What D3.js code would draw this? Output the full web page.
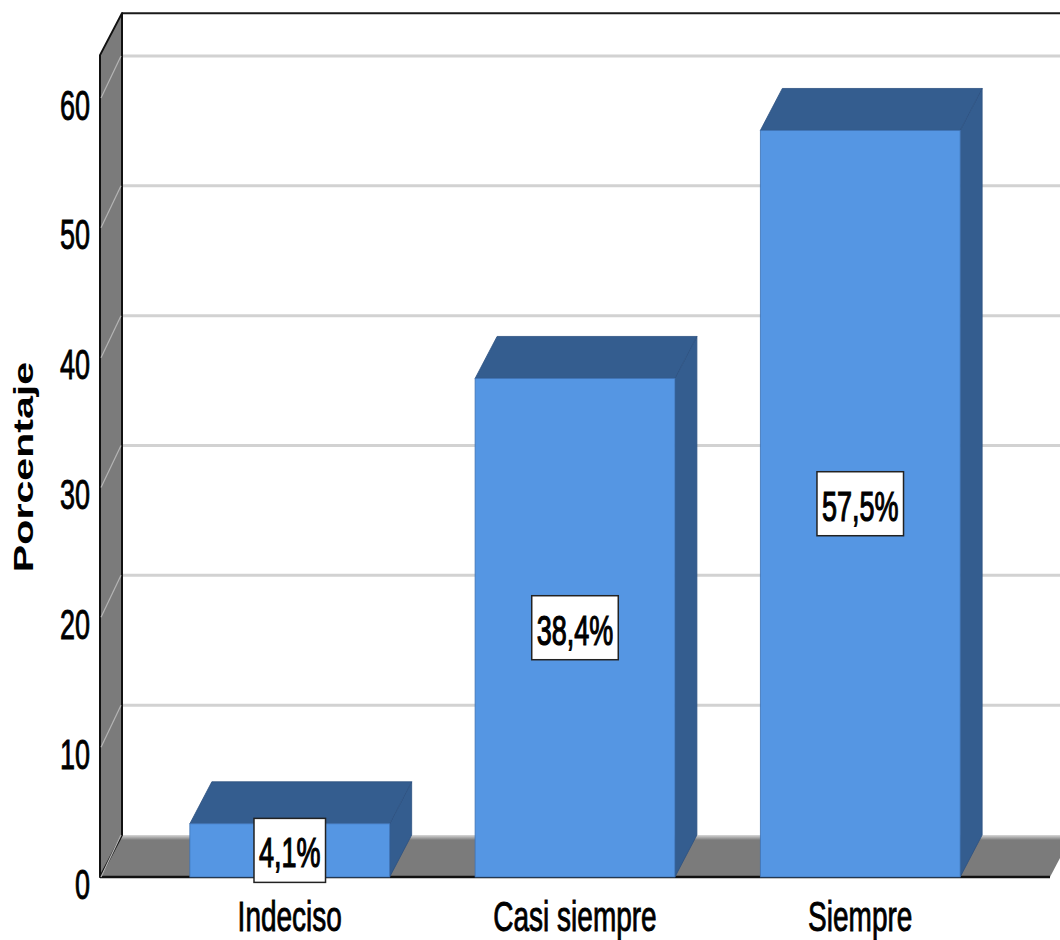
<!DOCTYPE html>
<html><head><meta charset="utf-8">
<script src="https://cdn.jsdelivr.net/npm/d3@7"></script>
<style>
html,body{margin:0;padding:0;background:#fff;}
svg{display:block;font-family:"Liberation Sans",Arial,sans-serif;}
</style></head>
<body>
<svg id="chart" width="1060" height="940"></svg>
<script>
const categories = ["Indeciso", "Casi siempre", "Siempre"];
const percentValues = [4.1, 38.4, 57.5];
const valueLabels = ["4,1%", "38,4%", "57,5%"];
const yTicks = [0, 10, 20, 30, 40, 50, 60];
const yTitle = "Porcentaje";

const svg = d3.select("#chart");
const DX = 22, DY = -42;        // depth offset
const SY = 1.55;                // vertical text stretch
const frontLeft = 100, frontRight = 1050;

const y = d3.scaleLinear().domain([0, 60]).range([877, 98]);
const x = d3.scaleBand().domain(categories).range([frontLeft, frontRight])
  .paddingInner(0.2995).paddingOuter(0.315);

const y0 = y(0), yTop = y(63.3);
const pts = a => a.map(p => p.join(",")).join(" ");

// floor gradient
const defs = svg.append("defs");
const g1 = defs.append("linearGradient").attr("id","floorGrad").attr("x1",0).attr("y1",0).attr("x2",0).attr("y2",1);
g1.append("stop").attr("offset","0%").attr("stop-color","#d8d8d8");
g1.append("stop").attr("offset","12%").attr("stop-color","#7b7b7b");
g1.append("stop").attr("offset","100%").attr("stop-color","#7b7b7b");

// back wall gridlines
svg.append("g").selectAll("line").data(yTicks.filter(d => d > 0)).join("line")
  .attr("x1", frontLeft + DX).attr("x2", 1060)
  .attr("y1", d => y(d) + DY).attr("y2", d => y(d) + DY)
  .attr("stroke", "#d2d2d2").attr("stroke-width", 3);

// top border of back wall
svg.append("line").attr("x1", frontLeft + DX).attr("x2", 1060)
  .attr("y1", yTop + DY).attr("y2", yTop + DY)
  .attr("stroke", "#1a1a1a").attr("stroke-width", 2);

// floor
svg.append("polygon")
  .attr("points", pts([[frontLeft, y0], [frontLeft + DX, y0 + DY], [frontRight + DX, y0 + DY], [frontRight, y0]]))
  .attr("fill", "url(#floorGrad)");
svg.append("line").attr("x1", frontLeft).attr("x2", frontRight).attr("y1", y0).attr("y2", y0)
  .attr("stroke", "#111").attr("stroke-width", 2.5);

// side wall
svg.append("polygon")
  .attr("points", pts([[frontLeft, yTop], [frontLeft + DX, yTop + DY], [frontLeft + DX, y0 + DY], [frontLeft, y0]]))
  .attr("fill", "#7b7b7b").attr("stroke", "#111").attr("stroke-width", 2).attr("stroke-linejoin","round");
svg.append("g").selectAll("line").data(yTicks).join("line")
  .attr("x1", frontLeft + 1).attr("x2", frontLeft + DX - 1)
  .attr("y1", d => y(d)).attr("y2", d => y(d) + DY)
  .attr("stroke", "#b5b5b5").attr("stroke-width", 1.2);

// bars
const bars = svg.append("g").selectAll("g").data(categories).join("g");
bars.each(function(c, i) {
  const g = d3.select(this);
  const bx0 = x(c), bx1 = x(c) + x.bandwidth(), by = y(percentValues[i]);
  g.append("polygon").attr("points", pts([[bx1, by], [bx1 + DX, by + DY], [bx1 + DX, y0 + DY], [bx1, y0]]))
    .attr("fill", "#345d8f").attr("stroke", "#2c5080").attr("stroke-width", 0.8);
  g.append("polygon").attr("points", pts([[bx0, by], [bx0 + DX, by + DY], [bx1 + DX, by + DY], [bx1, by]]))
    .attr("fill", "#345d8f").attr("stroke", "#2c5080").attr("stroke-width", 0.8);
  g.append("rect").attr("x", bx0).attr("y", by).attr("width", bx1 - bx0).attr("height", y0 - by)
    .attr("fill", "#5596e3").attr("stroke", "#3f73b5").attr("stroke-width", 0.8);
});

// value labels
const labels = svg.append("g").selectAll("g").data(categories).join("g")
  .attr("transform", (c, i) => `translate(${x(c) + x.bandwidth() / 2},${(y(percentValues[i]) + y0) / 2})`);
labels.each(function(c, i) {
  const g = d3.select(this);
  const t = g.append("text").text(valueLabels[i])
    .attr("text-anchor", "middle").attr("font-size", 27)
    .attr("stroke", "#000").attr("stroke-width", 0.8)
    .attr("transform", `translate(0,17) scale(1,${SY})`).attr("fill", "#000");
  const w = t.node().getComputedTextLength();
  g.insert("rect", "text").attr("x", -w / 2 - 5).attr("y", -32).attr("width", w + 10).attr("height", 64)
    .attr("fill", "#fff").attr("stroke", "#222").attr("stroke-width", 1.5);
});

// y axis
const yAxis = svg.append("g").attr("transform", `translate(${frontLeft},0)`)
  .call(d3.axisLeft(y).tickValues(yTicks).tickSize(0).tickPadding(10).tickFormat(d3.format("d")));
yAxis.select(".domain").remove();
yAxis.selectAll("text").attr("font-size", 27).attr("font-family", "Liberation Sans, Arial, sans-serif")
  .attr("stroke", "#000").attr("stroke-width", 0.6)
  .attr("fill", "#000").attr("x", -10).attr("dy", (21 / SY) + "px").attr("transform", `scale(1,${SY})`);

// x axis
const xAxis = svg.append("g").attr("transform", `translate(0,${y0})`)
  .call(d3.axisBottom(x).tickSize(0));
xAxis.select(".domain").remove();
xAxis.selectAll("text").attr("font-size", 28).attr("font-family", "Liberation Sans, Arial, sans-serif")
  .attr("stroke", "#000").attr("stroke-width", 0.6)
  .attr("fill", "#000").attr("y", 0).attr("dy", (54 / SY) + "px").attr("transform", `scale(1,${SY})`);

// y title
svg.append("text").text(yTitle)
  .attr("font-size", 28).attr("font-weight", "bold").attr("text-anchor", "middle")
  .attr("transform", "translate(33,467) rotate(-90) scale(1.47,1)").attr("fill", "#000");
</script>
</body></html>
